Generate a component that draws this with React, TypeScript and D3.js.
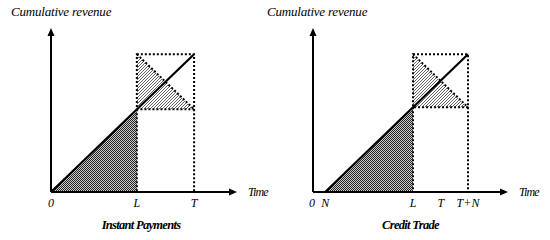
import * as d3 from 'd3'

// time positions (in units of the full period) per panel
const panelTitles = ['Instant Payments', 'Credit Trade']
const startTimes = [0, 0.085]      // where cumulative revenue starts (0 or N)
const lockTimes = [0.6, 0.7]       // L
const endTimes = [1.0, 1.085]      // T or T+N
const tickNames = [['0', 'L', 'T'], ['0', 'N', 'L', 'T', 'T+N']]
const tickTimes = [[0, 0.6, 1.0], [0, 0.085, 0.7, 0.895, 1.085]]
const revenueTop = 1

const panelBox = [
  { x0: 51, x1: 237, max: 1.3, labelX: 11 },
  { x0: 313, x1: 508, max: 1.365, labelX: 267 },
]

const font = '"Liberation Serif", "Times New Roman", serif'

function Panel({ i }: { i: number }) {
  const box = panelBox[i]
  const x = d3.scaleLinear().domain([0, box.max]).range([box.x0, box.x1])
  const y = d3.scaleLinear().domain([0, 1.19]).range([192, 28])
  const s = startTimes[i], L = lockTimes[i], E = endTimes[i]
  const rev = d3.scaleLinear().domain([s, E]).range([0, revenueTop])
  const midRev = rev(L)
  const line = d3.line<[number, number]>().x(d => x(d[0])).y(d => y(d[1]))
  const poly = (pts: [number, number][]) => line(pts) + 'Z'
  const dots = { stroke: '#000', strokeWidth: 2, strokeDasharray: '2,2', fill: 'none' }

  return (
    <g fontFamily={font} fontStyle="italic">
      <path d={poly([[s, 0], [L, midRev], [L, 0]])} fill="url(#dark)" />
      <path d={poly([[L, revenueTop], [L, midRev], [E, midRev]])} fill="url(#light)" />
      {/* dotted box and guides */}
      <rect x={x(L)} y={y(revenueTop)} width={x(E) - x(L)} height={y(midRev) - y(revenueTop)} {...dots} />
      <path d={line([[L, midRev], [L, 0]])!} {...dots} />
      <path d={line([[E, midRev], [E, 0]])!} {...dots} />
      <path d={line([[L, revenueTop], [E, midRev]])!} {...dots} />
      {/* revenue line */}
      <path d={line([[s, 0], [E, revenueTop]])!} stroke="#000" strokeWidth={2.2} fill="none" />
      {/* axes */}
      <line x1={x(0)} y1={y(0)} x2={x(box.max) - 5} y2={y(0)} stroke="#000" strokeWidth={2} />
      <line x1={x(0)} y1={y(0)} x2={x(0)} y2={y(1.19) + 5} stroke="#000" strokeWidth={2} />
      <path d={`M${x(box.max)},${y(0)} l-8,-3.5 v7 Z`} fill="#000" />
      <path d={`M${x(0)},${y(1.19)} l-3.5,8 h7 Z`} fill="#000" />
      {tickNames[i].map((t, k) => (
        <text key={t} x={x(tickTimes[i][k]) + (t === '0' && i === 1 ? -1 : 0)} y={207}
          textAnchor="middle" fontSize={12}>{t}</text>
      ))}
      <text x={x(box.max) + 11} y={196} fontSize={12} letterSpacing={-0.9}>Time</text>
      <text x={box.labelX} y={16} fontSize={13} letterSpacing={-0.2}>Cumulative revenue</text>
      <text x={(x(0) + x(box.max)) / 2 + (i === 0 ? -3 : 0)} y={229} textAnchor="middle" fontSize={12.5}
        fontWeight="bold" letterSpacing={-0.7}>{panelTitles[i]}</text>
    </g>
  )
}

export default function App() {
  return (
    <svg width={550} height={240} style={{ position: 'absolute', left: 0, top: 0, background: '#fff' }}>
      <defs>
        <pattern id="dark" width={2} height={2} patternUnits="userSpaceOnUse">
          <rect width={2} height={2} fill="#ccc" />
          <rect width={1} height={1} fill="#222" />
          <rect x={1} y={1} width={1} height={1} fill="#222" />
        </pattern>
        <pattern id="light" width={3} height={3} patternUnits="userSpaceOnUse">
          <rect width={3} height={3} fill="#fff" />
          <rect width={1} height={1} fill="#666" />
          <rect x={1} y={2} width={1} height={1} fill="#666" />
          <rect x={2} y={1} width={1} height={1} fill="#666" />
        </pattern>
      </defs>
      {panelTitles.map((_, i) => <Panel key={i} i={i} />)}
    </svg>
  )
}
